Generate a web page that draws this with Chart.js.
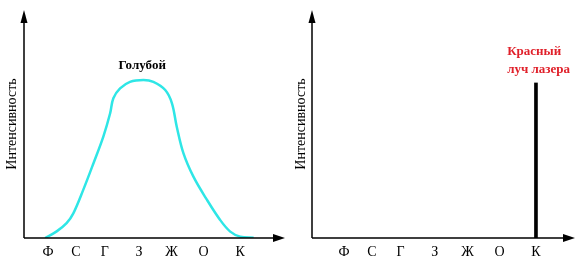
<!DOCTYPE html>
<html><head><meta charset="utf-8">
<script src="https://cdn.jsdelivr.net/npm/chart.js@4.4.1/dist/chart.umd.min.js"></script>
<style>
html,body{margin:0;padding:0;background:#fff;}
body{width:584px;height:267px;overflow:hidden;position:relative;}
canvas{position:absolute;top:0;}
#c1{left:0;} #c2{left:292px;}
</style></head><body>
<canvas id="c1" width="292" height="267"></canvas>
<canvas id="c2" width="292" height="267"></canvas>
<script>
// ---- data ----
const spectrumLabels = ['Ф','С','Г','З','Ж','О','К'];
const spectrumTickPos = [0, 0.87, 1.77, 2.84, 3.86, 4.86, 6];
const yTitle = 'Интенсивность';
const blueName = 'Голубой';
const blueX = [-0.09, 0.27, 0.58, 0.79, 1.10, 1.42, 1.73, 1.94, 2.04, 2.25, 2.56, 2.98, 3.29, 3.66, 3.87, 4.02, 4.23, 4.54, 4.96, 5.375, 5.69, 6.0, 6.42];
const blueY = [0, 2.9, 6.5, 10.8, 21.1, 32.8, 44.6, 54.7, 61.3, 65.6, 68.5, 69.3, 68.5, 64.9, 59.1, 48.8, 37.1, 26.9, 16.8, 7.9, 2.8, 0.6, 0.1];
const laserNameLines = ['Красный', 'луч лазера'];
const laserX = [6];
const laserY = [68];

// ---- styling helpers ----
const SERIF = "'Liberation Serif','Times New Roman',serif";

const axesArrows = {
  id: 'axesArrows',
  afterDatasetsDraw(chart) {
    const {ctx, chartArea: a} = chart;
    ctx.save();
    ctx.strokeStyle = '#000'; ctx.fillStyle = '#000'; ctx.lineWidth = 1.5;
    ctx.beginPath();
    ctx.moveTo(a.left, a.bottom); ctx.lineTo(a.right - 8, a.bottom);
    ctx.moveTo(a.left, a.bottom); ctx.lineTo(a.left, a.top + 8);
    ctx.stroke();
    ctx.beginPath();
    ctx.moveTo(a.right, a.bottom); ctx.lineTo(a.right - 12, a.bottom - 4); ctx.lineTo(a.right - 12, a.bottom + 4); ctx.closePath();
    ctx.fill();
    ctx.beginPath();
    ctx.moveTo(a.left, a.top); ctx.lineTo(a.left - 3.5, a.top + 13); ctx.lineTo(a.left + 3.5, a.top + 13); ctx.closePath();
    ctx.fill();
    ctx.restore();
  }
};

const textMarks = {
  id: 'textMarks',
  afterDraw(chart, args, opts) {
    const {ctx} = chart;
    const xs = chart.scales.x, ys = chart.scales.y;
    ctx.save();
    (opts.items || []).forEach(it => {
      ctx.font = 'bold 13px ' + SERIF;
      ctx.fillStyle = it.color;
      ctx.textAlign = it.align || 'center';
      ctx.textBaseline = 'middle';
      ctx.fillText(it.text, xs.getPixelForValue(it.x), ys.getPixelForValue(it.y));
    });
    ctx.restore();
  }
};

function makeOptions(cfg) {
  return {
    responsive: false,
    animation: false,
    layout: {padding: {top: 10, right: cfg.padRight, left: 0, bottom: 0}},
    plugins: {legend: {display: false}, tooltip: {enabled: false}, textMarks: {items: cfg.items}},
    scales: {
      x: {
        type: 'linear', min: cfg.xmin, max: cfg.xmax, offset: false,
        grid: {display: false, drawTicks: false, offset: false}, border: {display: false},
        afterBuildTicks: s => { s.ticks = spectrumTickPos.map(v => ({value: v})); },
        afterFit: s => { s.height = 29; },
        ticks: {
          autoSkip: false, maxRotation: 0, padding: 6, color: '#000',
          font: {family: SERIF, size: 14},
          callback: (v, i) => spectrumLabels[i]
        }
      },
      y: {
        min: 0, max: 100,
        grid: {display: false, drawTicks: false}, border: {display: false},
        ticks: {display: false},
        afterFit: s => { s.width = cfg.yWidth; },
        title: {display: true, text: yTitle, color: '#000', font: {family: SERIF, size: 14}, padding: {top: cfg.titlePad, bottom: 0}}
      }
    }
  };
}

new Chart(document.getElementById('c1'), {
  type: 'line',
  data: {
    datasets: [{
      data: blueX.map((x, i) => ({x, y: blueY[i]})),
      borderColor: '#2ee6e6', borderWidth: 2.5, pointRadius: 0,
      tension: 0.35, fill: false
    }]
  },
  options: makeOptions({xmin: -0.75, xmax: 7.4, padRight: 7, yWidth: 24, titlePad: 4,
    items: [{text: blueName, x: 2.94, y: 75.4, color: '#000'}]}),
  plugins: [axesArrows, textMarks]
});

new Chart(document.getElementById('c2'), {
  type: 'bar',
  data: {
    datasets: [{
      data: laserX.map((x, i) => ({x, y: laserY[i]})),
      backgroundColor: '#000', barThickness: 3
    }]
  },
  options: makeOptions({xmin: -1.0, xmax: 7.22, padRight: 9, yWidth: 20, titlePad: 0.5,
    items: [
      {text: laserNameLines[0], x: 5.1, y: 81.6, color: '#e0202a', align: 'left'},
      {text: laserNameLines[1], x: 5.1, y: 73.7, color: '#e0202a', align: 'left'}
    ]}),
  plugins: [axesArrows, textMarks]
});
</script>
</body></html>
